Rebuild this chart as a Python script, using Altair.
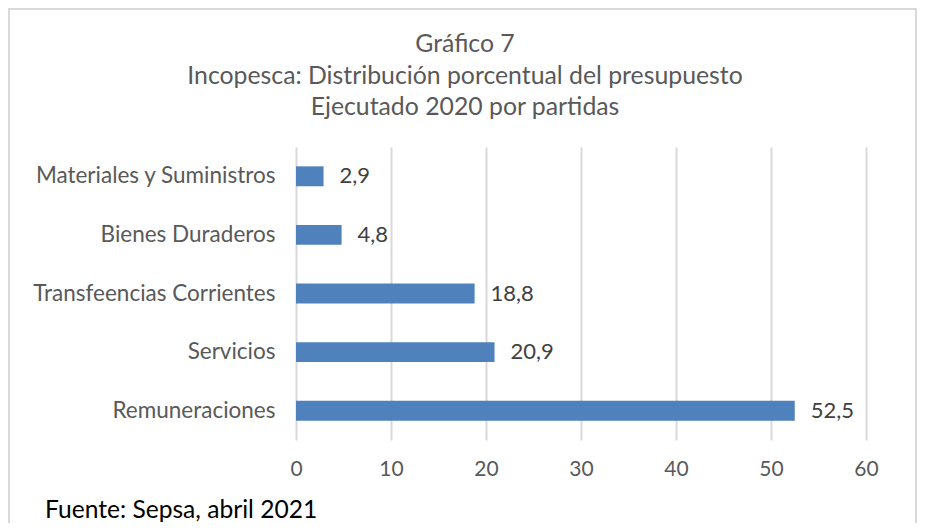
import altair as alt
import pandas as pd

categories = ["Materiales y Suministros", "Bienes Duraderos", "Transfeencias Corrientes", "Servicios", "Remuneraciones"]
values = [2.9, 4.8, 18.8, 20.9, 52.5]
x_ticks = [0, 10, 20, 30, 40, 50, 60]
title_lines = ["Gráfico 7", "Incopesca: Distribución porcentual del presupuesto", "Ejecutado 2020 por partidas"]
source_note = "Fuente: Sepsa, abril 2021"

df = pd.DataFrame({
    "cat": categories,
    "val": values,
    "lab": [f"{v:.1f}".replace(".", ",") for v in values],
})

FONT = "Lato"

y_enc = alt.Y("cat:N", sort=categories, title=None,
              scale=alt.Scale(paddingInner=0.66, paddingOuter=0.33),
              axis=alt.Axis(domain=False, ticks=False, labelPadding=21, labelFontSize=22.5,
                            labelColor="#595959", labelFont=FONT, labelLimit=400))
x_enc = alt.X("val:Q", title=None,
              scale=alt.Scale(domain=[0, 60], nice=False),
              axis=alt.Axis(values=x_ticks, domain=False, ticks=False, labelPadding=18,
                            labelFlush=False, labelFontSize=21, labelColor="#595959",
                            labelFont=FONT, gridColor="#d9d9d9", gridWidth=2))

bars = alt.Chart(df).mark_bar(color="#4f81bd").encode(x=x_enc, y=y_enc)
labels = alt.Chart(df).mark_text(align="left", baseline="middle", dx=16, fontSize=22,
                                 font=FONT, color="#404040").encode(
    x=alt.X("val:Q"), y=alt.Y("cat:N", sort=categories), text="lab:N")

title = alt.Chart(pd.DataFrame({"t": [0]})).mark_text(
    align="center", baseline="middle", fontSize=24.8, font=FONT, color="#595959",
    lineHeight=31.5).encode(
    text=alt.value(title_lines), x=alt.value(169), y=alt.value(-102))

note = alt.Chart(pd.DataFrame({"t": [source_note]})).mark_text(
    align="left", baseline="middle", fontSize=24.6, font=FONT, color="#000000").encode(
    text="t:N", x=alt.value(-251), y=alt.value(364))

frame = alt.Chart(pd.DataFrame({"t": [0]})).mark_rect(
    fill=None, fillOpacity=0, stroke="#d9d9d9", strokeWidth=2).encode(
    x=alt.value(-287), x2=alt.value(620), y=alt.value(-138), y2=alt.value(450))

chart = alt.layer(frame, bars, labels, title, note).properties(
    width=570, height=293,
    background="white",
    autosize=alt.AutoSizeParams(type="none"),
    padding={"left": 288, "top": 139, "right": 51, "bottom": 83},
).configure_view(strokeWidth=0, stroke="transparent")

chart.save("out.html", embed_options={"renderer": "svg", "actions": False})
